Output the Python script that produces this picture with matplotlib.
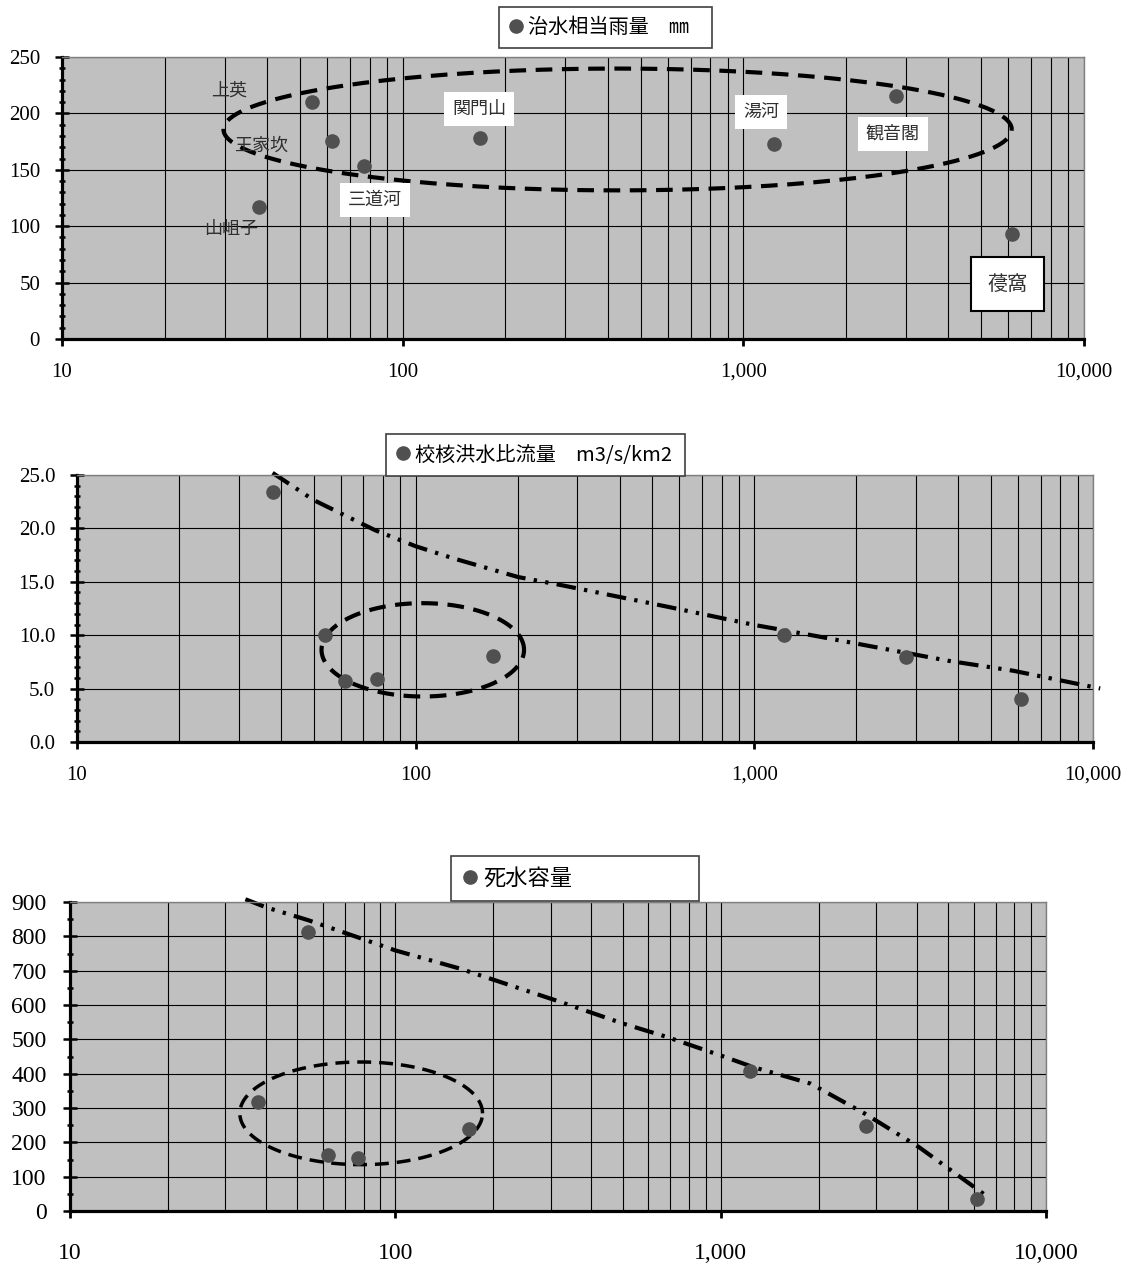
import numpy as np
import matplotlib
matplotlib.use("Agg")
import matplotlib.pyplot as plt
from matplotlib.lines import Line2D
from matplotlib.ticker import FixedLocator, FuncFormatter, MultipleLocator

#data (x = catchment area, log scale)
dams = ['山岨子', '上英', '王家坎', '三道河', '関門山', '湯河', '観音閣', '葠窩']
area = [37.8, 54, 62, 77, 169, 1227, 2800, 6130]

rain = [117, 210, 175.8, 153, 178, 173, 215, 93]                 #治水相当雨量 mm
flood = [23.4, 10.06, 5.73, 5.92, 8.08, 10.06, 7.93, 4.07]        #校核洪水比流量
dead = [317, 813, 163, 155, 239, 408, 248, 34]                     #死水容量

#hand drawn trend lines
flood_line_x = [37.8, 50, 75.9, 100, 130, 201, 268, 561, 1000, 1500, 3730, 5820, 10500]
flood_line_y = [25.2, 22.65, 19.83, 18.33, 17.17, 15.44, 14.7, 12.63, 10.96, 9.96, 7.61, 6.67, 5.01]
dead_line_x = [34.6, 40.2, 54, 77.3, 100, 158, 310, 501, 683, 1000, 1260, 1890, 2770, 4070, 6580]
dead_line_y = [908, 884, 847, 796, 759, 706, 614, 546, 507, 453, 419, 371, 284, 186, 43]

#ellipses: (log10 centre, log10 half width, y centre, y half height)
rain_ellipse = (2.631, 1.157, 185.75, 54)
flood_ellipse = (2.021, 0.299, 8.63, 4.37)
dead_ellipse = (1.895, 0.373, 284.5, 149.5)

#label offsets (points) for the top chart
top_labels = ['山岨子', '上英', '王家坎', '三道河', '関門山', '湯河', '観音閣', '葠窩']
top_offsets = [(-20, -16), (-59, 8), (-51, -4), (8, -24), (-1, 21), (-9, 23), (-2, -27), (-3, -36)]
top_boxed = [False, False, False, True, True, True, True, 'frame']

W, H = 1128, 1268
cjk = ['Noto Sans CJK JP', 'DejaVu Sans']
serif = ['Liberation Serif', 'DejaVu Serif']
dot_color = '#505050'
dash_dot_dot = (0, (4.7, 2, 0.8, 2, 0.8, 2))


def ellipse_xy(e):
    t = np.linspace(0, 2 * np.pi, 300)
    return 10 ** (e[0] + e[1] * np.cos(t)), e[2] + e[3] * np.sin(t)


def setup_axes(ax, ymax, ymajor, yminor, yfmt, xsize, ysize, xpad, ypad):
    ax.set_facecolor('#c0c0c0')
    ax.set_xscale('log')
    ax.set_xlim(10, 10000)
    ax.set_ylim(0, ymax)
    ax.xaxis.set_major_locator(FixedLocator([10, 100, 1000, 10000]))
    minors = [m * d for d in (10, 100, 1000) for m in range(2, 10)]
    ax.xaxis.set_minor_locator(FixedLocator(minors))
    ax.xaxis.set_major_formatter(FuncFormatter(lambda v, p: f'{v:,.0f}'))
    ax.xaxis.set_minor_formatter(FuncFormatter(lambda v, p: ''))
    ax.yaxis.set_major_locator(MultipleLocator(ymajor))
    ax.yaxis.set_minor_locator(MultipleLocator(yminor))
    ax.yaxis.set_major_formatter(FuncFormatter(lambda v, p: yfmt.format(v)))
    ax.grid(True, which='both', axis='x', color='black', lw=0.8)
    ax.grid(True, which='major', axis='y', color='black', lw=0.8)
    ax.set_axisbelow(True)
    for s in ('top', 'right'):
        ax.spines[s].set_color('#808080')
        ax.spines[s].set_linewidth(1)
    for s in ('left', 'bottom'):
        ax.spines[s].set_color('black')
        ax.spines[s].set_linewidth(2.3)
    ax.tick_params(axis='x', which='major', direction='out', length=5, width=2, pad=xpad)
    ax.tick_params(axis='x', which='minor', length=0)
    ax.tick_params(axis='y', which='major', direction='inout', length=9.5, width=1.8, pad=ypad)
    ax.tick_params(axis='y', which='minor', direction='inout', length=5, width=1.8)
    for lab in ax.get_xticklabels():
        lab.set_family(serif)
        lab.set_fontsize(xsize)
    for lab in ax.get_yticklabels():
        lab.set_family(serif)
        lab.set_fontsize(ysize)


def legend_box(fig, ax, label, px0, py0, px1, py1, family, size):
    h = Line2D([], [], ls='none', marker='o', ms=9.5, color=dot_color)
    leg = ax.legend([h], [label], loc='center', mode='expand',
                    bbox_to_anchor=(px0 / W, 1 - py1 / H, (px1 - px0) / W, (py1 - py0) / H),
                    bbox_transform=fig.transFigure, fancybox=False, framealpha=1,
                    edgecolor='#404040', borderpad=0.5, handlelength=0.7, handletextpad=0.25,
                    borderaxespad=0, prop={'family': family, 'size': size})
    leg.get_frame().set_linewidth(1.2)
    leg.set_zorder(10)
    return leg


fig = plt.figure(figsize=(W / 100, H / 100), dpi=100)

#1. 治水相当雨量
ax1 = fig.add_axes([62 / W, 1 - 339 / H, (1084 - 62) / W, (339 - 57) / H])
setup_axes(ax1, 250, 50, 10, '{:.0f}', 15, 15, 12, 11)
ex, ey = ellipse_xy(rain_ellipse)
ax1.plot(ex, ey, color='black', lw=3, ls=(0, (4, 2.3)))
ax1.plot(area, rain, ls='none', marker='o', ms=9.5, color=dot_color, zorder=5)
for i, name in enumerate(top_labels):
    box = None
    size = 13
    if top_boxed[i] is True:
        box = dict(boxstyle='square,pad=0.45', fc='white', ec='none')
    elif top_boxed[i] == 'frame':
        box = dict(boxstyle='square,pad=0.8', fc='white', ec='black', lw=1.5)
        size = 14.5
    ax1.annotate(name, (area[i], rain[i]), xytext=top_offsets[i], textcoords='offset points',
                 ha='center', va='center', fontsize=size, family=cjk, color='#303030',
                 bbox=box, zorder=6)
legend_box(fig, ax1, '治水相当雨量　㎜', 499, 7, 712, 48, cjk, 14.5)

#2. 校核洪水比流量
ax2 = fig.add_axes([77 / W, 1 - 742 / H, (1093 - 77) / W, (742 - 475) / H])
setup_axes(ax2, 25, 5, 1, '{:.1f}', 15, 15, 12, 11)
ax2.plot(flood_line_x, flood_line_y, color='black', lw=3, ls=dash_dot_dot, clip_on=False)
ex, ey = ellipse_xy(flood_ellipse)
ax2.plot(ex, ey, color='black', lw=3, ls=(0, (4, 2.3)))
ax2.plot(area, flood, ls='none', marker='o', ms=9.5, color=dot_color, zorder=5)
legend_box(fig, ax2, '校核洪水比流量　m3/s/km2', 386, 432, 685, 478, cjk, 14.5)

#3. 死水容量
ax3 = fig.add_axes([70 / W, 1 - 1211 / H, (1046 - 70) / W, (1211 - 902) / H])
setup_axes(ax3, 900, 100, 50, '{:.0f}', 17, 17, 18, 12)
ax3.plot(dead_line_x, dead_line_y, color='black', lw=3, ls=dash_dot_dot, clip_on=False)
ex, ey = ellipse_xy(dead_ellipse)
ax3.plot(ex, ey, color='black', lw=2.5, ls=(0, (4, 2.3)))
ax3.plot(area, dead, ls='none', marker='o', ms=9.5, color=dot_color, zorder=5)
legend_box(fig, ax3, '死水容量', 451, 857, 699, 900, cjk, 16)

fig.savefig('out.png', dpi=100)
